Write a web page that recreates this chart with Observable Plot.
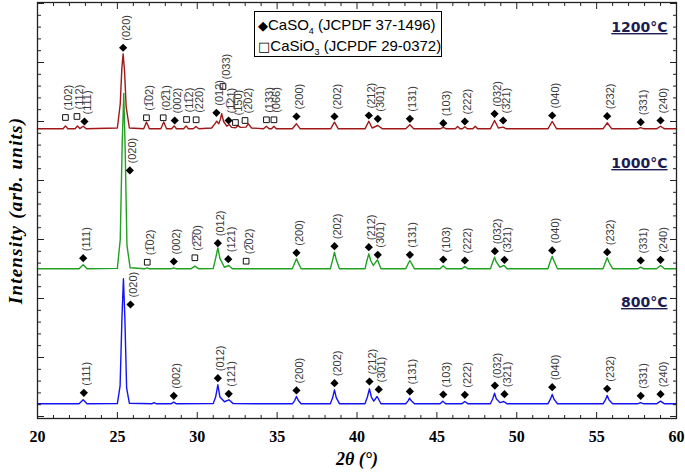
<!DOCTYPE html>
<html><head><meta charset="utf-8">
<script src="https://cdn.jsdelivr.net/npm/d3@7"></script>
<script src="https://cdn.jsdelivr.net/npm/@observablehq/plot@0.6"></script>
<style>
body{margin:0;background:#fff;}
#wrap{position:relative;width:685px;height:472px;overflow:hidden;}
#legend{position:absolute;left:254px;top:11px;width:188px;height:46px;border:1px solid #000;background:#fff;
  font:15px "Liberation Sans",Arial,sans-serif;line-height:20px;padding:3px 0 0 3px;box-sizing:border-box;color:#000;white-space:nowrap;}
#legend sub{font-size:9px;vertical-align:-4px;line-height:0;}
#legend .sym{font-family:"DejaVu Sans";font-size:13px;}
.temp{text-decoration:underline;}
.ytitle text{letter-spacing:1.2px;}
</style></head>
<body>
<div id="wrap">
<div id="chart"></div>
<div id="legend"><div><span class="sym">◆</span>CaSO<sub>4</sub> (JCPDF 37-1496)</div><div><span class="sym">□</span>CaSiO<sub>3</sub> (JCPDF 29-0372)</div></div>
</div>
<script>
// ---- axis ticks
const xMajor = [20, 25, 30, 35, 40, 45, 50, 55, 60];
const xMinor = [21,22,23,24,26,27,28,29,31,32,33,34,36,37,38,39,41,42,43,44,46,47,48,49,51,52,53,54,56,57,58,59];
const yMajor = [0, 1000, 2000, 3000, 4000, 5000, 6000, 7000];
const yMinor = [200,400,600,800,1200,1400,1600,1800,2200,2400,2600,2800,3200,3400,3600,3800,4200,4400,4600,4800,5200,5400,5600,5800,6200,6400,6600,6800];

// ---- patterns (2θ, intensity a.u., offset stacked)
const pattern800 = [
[20,215],[22.6,216],[22.86,283],[23.1,215],
[25.0,218],[25.17,520],[25.29,1700],[25.38,2334],[25.47,1650],[25.58,480],[25.75,225],
[27.15,215],[27.3,235],[27.45,215],
[28.35,215],[28.53,242],[28.7,215],
[31.0,218],[31.15,330],[31.29,537],[31.42,330],[31.7,250],[31.98,283],[32.25,218],
[35.95,215],[36.1,270],[36.21,339],[36.33,270],[36.5,217],
[38.33,215],[38.48,320],[38.59,452],[38.7,320],[38.9,217],
[40.5,215],[40.65,330],[40.78,469],[40.9,330],[41.05,260],[41.26,339],[41.5,216],
[43.05,215],[43.2,265],[43.29,311],[43.4,265],[43.6,215],
[45.2,215],[45.37,260],[45.55,215],
[46.55,215],[46.75,254],[46.95,215],
[48.35,215],[48.5,300],[48.61,395],[48.72,300],[48.95,235],[49.19,254],[49.4,215],
[51.95,215],[52.1,290],[52.22,373],[52.34,290],[52.55,216],
[55.4,215],[55.55,280],[55.66,356],[55.78,280],[56.0,216],
[57.55,215],[57.75,235],[57.95,215],
[58.75,215],[59.0,260],[59.25,215],
[60,215]];
const pattern1000 = [
[20,2503],[22.6,2503],[22.86,2571],[23.1,2503],
[25.0,2510],[25.18,3000],[25.3,4600],[25.4,5475],[25.49,4500],[25.6,2900],[25.8,2520],
[26.7,2503],[26.87,2520],[27.0,2503],
[28.35,2503],[28.53,2520],[28.7,2503],
[29.6,2503],[29.85,2548],[30.1,2503],
[31.0,2506],[31.15,2680],[31.29,2859],[31.42,2680],[31.7,2530],[31.97,2559],[32.2,2505],
[35.95,2503],[36.1,2600],[36.21,2673],[36.33,2600],[36.5,2505],
[38.33,2503],[38.48,2660],[38.59,2785],[38.7,2660],[38.9,2505],
[40.5,2503],[40.62,2640],[40.74,2757],[40.86,2640],[41.02,2560],[41.28,2656],[41.5,2505],
[43.05,2503],[43.2,2590],[43.31,2644],[43.42,2590],[43.6,2503],
[45.2,2503],[45.4,2554],[45.6,2503],
[46.55,2503],[46.75,2542],[46.95,2503],
[48.35,2503],[48.5,2620],[48.61,2700],[48.72,2620],[48.95,2530],[49.2,2559],[49.4,2503],
[51.95,2503],[52.1,2630],[52.22,2712],[52.34,2630],[52.55,2505],
[55.4,2503],[55.55,2610],[55.66,2689],[55.78,2610],[56.0,2505],
[57.55,2503],[57.76,2531],[57.95,2503],
[58.75,2503],[59.0,2559],[59.25,2503],
[60,2503]];
const pattern1200 = [
[20,4876],[21.6,4876],[21.75,4925],[21.9,4876],
[22.35,4876],[22.5,4925],[22.65,4880],[22.86,4920],[23.05,4876],
[25.0,4890],[25.18,5300],[25.28,5900],[25.36,6147],[25.45,5850],[25.55,5250],[25.75,4890],
[26.65,4876],[26.82,4990],[27.0,4876],
[27.72,4876],[27.9,4990],[28.08,4876],
[28.4,4876],[28.55,4925],[28.7,4876],
[29.15,4876],[29.3,4925],[29.45,4876],
[29.75,4876],[29.92,4915],[30.1,4876],
[30.9,4890],[31.1,4960],[31.22,5005],[31.35,4960],[31.45,5040],[31.53,5131],[31.65,5000],[31.85,4920],[32.0,4950],[32.15,4900],[32.4,4895],[32.55,4930],[32.7,4900],[33.05,4905],[33.2,4960],[33.4,4890],
[34.15,4876],[34.33,4920],[34.5,4876],
[34.65,4876],[34.8,4920],[34.95,4876],
[35.95,4876],[36.21,4961],[36.45,4876],
[38.35,4876],[38.59,4988],[38.83,4876],
[40.5,4876],[40.74,5005],[40.95,4890],[41.3,4932],[41.6,4876],
[43.05,4876],[43.31,4944],[43.55,4876],
[45.2,4876],[45.4,4900],[45.6,4876],
[46.15,4876],[46.3,4915],[46.45,4876],
[46.6,4876],[46.75,4910],[46.9,4876],
[47.25,4876],[47.4,4920],[47.55,4876],
[48.35,4876],[48.61,5017],[48.85,4890],[49.15,4905],[49.35,4876],
[51.95,4876],[52.22,5000],[52.5,4876],
[55.4,4876],[55.66,4978],[55.95,4876],
[57.55,4876],[57.76,4895],[57.95,4876],
[58.75,4876],[59.0,4920],[59.25,4876],
[60,4876]];

// ---- phase markers: [2θ, intensity, hkl, phase] (d = CaSO4, s = CaSiO3)
const markers800 = [
[22.90,402,"(111)","d"],[25.82,1898,"(020)","d"],[28.53,351,"(002)","d"],[31.29,649,"(012)","d"],
[31.97,385,"(121)","d"],[36.21,441,"(200)","d"],[38.59,564,"(202)","d"],[40.78,593,"(212)","d"],
[41.36,458,"(301)","d"],[43.31,424,"(131)","d"],[45.40,373,"(103)","d"],[46.75,368,"(222)","d"],
[48.63,525,"(032)","d"],[49.23,378,"(321)","d"],[52.22,497,"(040)","d"],[55.66,470,"(232)","d"],
[57.76,351,"(331)","d"],[59.00,378,"(240)","d"]];
const markers1000 = [
[22.86,2684,"(111)","d"],[25.78,4170,"(020)","d"],[26.87,2615,"(\u0305102)","s"],[28.53,2627,"(002)","d"],
[29.85,2690,"(\u03052\u030520)","s"],[31.29,2937,"(012)","d"],[31.94,2666,"(121)","d"],[33.06,2632,"(\u0305202)","s"],
[36.21,2775,"(200)","d"],[38.59,2887,"(202)","d"],[40.74,2870,"(212)","d"],[41.30,2741,"(301)","d"],
[43.31,2741,"(131)","d"],[45.40,2661,"(103)","d"],[46.75,2644,"(222)","d"],[48.63,2802,"(032)","d"],
[49.23,2656,"(321)","d"],[52.22,2814,"(040)","d"],[55.66,2785,"(232)","d"],[57.76,2644,"(331)","d"],
[59.00,2656,"(240)","d"]];
const markers1200 = [
[21.75,5068,"(102)","s"],[22.47,5085,"(112)","s"],[22.94,5000,"(111)","d"],[25.36,6250,"(020)","d"],
[26.82,5063,"(\u0305102)","s"],[27.87,5063,"(0\u030521)","s"],[28.59,5017,"(002)","d"],[29.33,5034,"(1\u030512)","s"],
[29.93,5029,"(220)","s"],[31.20,5148,"(012)","d"],[31.61,5593,"(033)","s"],[31.96,5017,"(\u0305121)","d"],
[32.39,4983,"(\u03051\u030550)","s"],[32.99,5017,"(\u0305202)","s"],[34.33,5029,"(133)","s"],[34.80,5029,"(066)","s"],
[36.21,5085,"(200)","d"],[38.59,5085,"(202)","d"],[40.74,5102,"(212)","d"],[41.30,5046,"(301)","d"],
[43.31,5046,"(131)","d"],[45.40,4971,"(103)","d"],[46.75,5000,"(222)","d"],[48.61,5131,"(032)","d"],
[49.15,5017,"(321)","d"],[52.22,5102,"(040)","d"],[55.66,5090,"(232)","d"],[57.76,4988,"(331)","d"],
[59.00,5017,"(240)","d"]];

// ---- temperature labels
const tempLabels = [["1200°C", 6593], ["1000°C", 4288], ["800°C", 1932]];
const tempX = 59.44;

// combining overline is written before the digit it covers -> move after it
function hkl(s){ return s.replace(/\u0305(\d)/g, "$1\u0305"); }

const lines = [
  {data: pattern800, color: "#1414f0"},
  {data: pattern1000, color: "#22a022"},
  {data: pattern1200, color: "#a01818"}
];
const markers = [...markers800, ...markers1000, ...markers1200].map(([x, y, label, phase]) => ({x, y, label: hkl(label), phase}));

const plot = Plot.plot({
  width: 685, height: 472,
  marginLeft: 37, marginRight: 9, marginTop: 2, marginBottom: 54,
  x: {domain: [20, 60]},
  y: {domain: [-34, 7017]},
  style: {background: "white", fontFamily: "'Liberation Sans', Arial, sans-serif", overflow: "visible"},
  marks: [
    ...lines.map(l => Plot.line(l.data, {x: d => d[0], y: d => d[1], stroke: l.color, strokeWidth: 1.4})),
    Plot.dot(markers.filter(d => d.phase === "d"), {x: "x", y: "y", symbol: "diamond2", fill: "black", r: 3.7}),
    Plot.dot(markers.filter(d => d.phase === "s"), {x: "x", y: "y", symbol: "square", fill: "none", stroke: "#111", strokeWidth: 1, r: 3.2}),
    Plot.text(markers, {x: "x", y: "y", text: "label", rotate: -90, textAnchor: "start", dx: 3, dy: -7, fontSize: 11, fill: "#3a3a3a"}),
    Plot.text(tempLabels, {x: () => tempX, y: d => d[1], text: d => d[0], textAnchor: "end", fontFamily: "'DejaVu Sans', sans-serif", fontWeight: "bold", fontSize: 14, fill: "#1c1c50", className: "temp"}),
    Plot.frame({stroke: "#222", strokeWidth: 1.3}),
    Plot.axisX({anchor: "bottom", ticks: xMajor, tickSize: 0, tickPadding: 12, tickFormat: d => String(d), fontFamily: "'Liberation Serif', serif", fontWeight: "bold", fontSize: 16, fill: "#000", label: null}),
    Plot.axisX({anchor: "bottom", ticks: xMajor, tickSize: -6, tickFormat: () => "", label: null, stroke: "#222"}),
    Plot.axisX({anchor: "bottom", ticks: xMinor, tickSize: -3, tickFormat: () => "", label: null, stroke: "#222"}),
    Plot.axisX({anchor: "top", ticks: xMajor, tickSize: -6, tickFormat: () => "", label: null, stroke: "#222"}),
    Plot.axisX({anchor: "top", ticks: xMinor, tickSize: -3, tickFormat: () => "", label: null, stroke: "#222"}),
    Plot.axisY({anchor: "left", ticks: yMajor, tickSize: -7, tickFormat: () => "", label: null, stroke: "#222"}),
    Plot.axisY({anchor: "left", ticks: yMinor, tickSize: -4, tickFormat: () => "", label: null, stroke: "#222"}),
    Plot.axisY({anchor: "right", ticks: yMajor, tickSize: -7, tickFormat: () => "", label: null, stroke: "#222"}),
    Plot.axisY({anchor: "right", ticks: yMinor, tickSize: -4, tickFormat: () => "", label: null, stroke: "#222"}),
    Plot.text(["2θ (°)"], {frameAnchor: "bottom", textAnchor: "middle", dy: 46, fontFamily: "'Liberation Serif', serif", fontWeight: "bold", fontStyle: "italic", fontSize: 18, fill: "#000"}),
    Plot.text(["Intensity (arb. units)"], {frameAnchor: "left", textAnchor: "middle", rotate: -90, dx: -22, fontFamily: "'Liberation Serif', serif", fontWeight: "bold", fontStyle: "italic", fontSize: 19, fill: "#000", className: "ytitle"})
  ]
});
document.getElementById("chart").appendChild(plot);
</script>
</body></html>
